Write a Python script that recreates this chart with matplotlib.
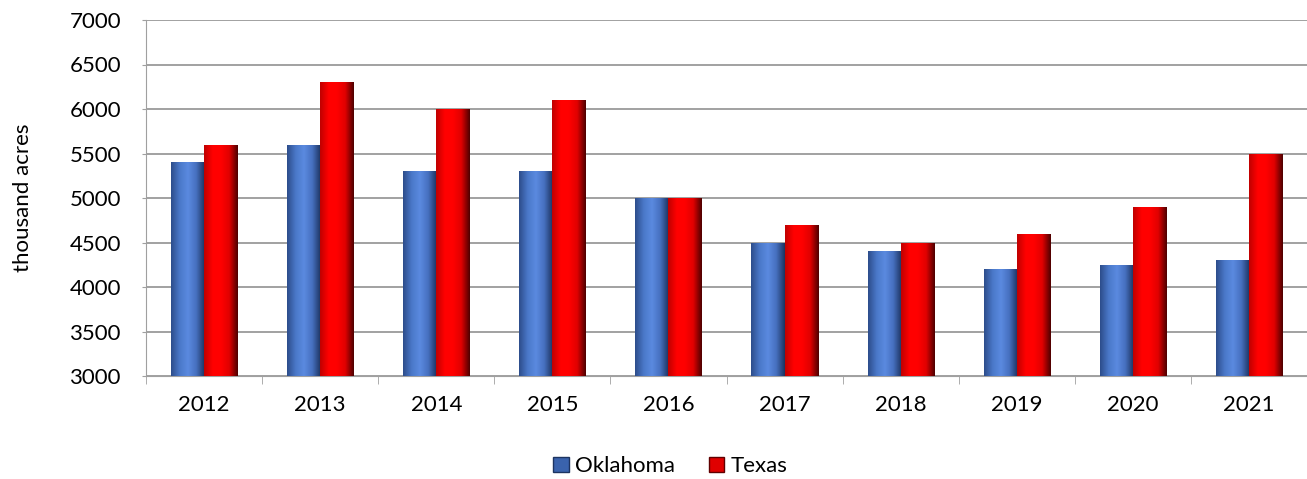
import matplotlib
matplotlib.use("Agg")
import matplotlib.pyplot as plt
from matplotlib.colors import LinearSegmentedColormap
from matplotlib.patches import Patch
import numpy as np

years = ['2012', '2013', '2014', '2015', '2016', '2017', '2018', '2019', '2020', '2021']
oklahoma = [5400, 5600, 5300, 5300, 5000, 4500, 4400, 4200, 4250, 4300]
texas = [5600, 6300, 6000, 6100, 5000, 4700, 4500, 4600, 4900, 5500]

plt.rcParams['font.family'] = ['Lato', 'DejaVu Sans']

# gradient maps to fake the bevelled excel bars
blue_cmap = LinearSegmentedColormap.from_list('bl', ['#2d4d8c', '#4a78c8', '#5b8ae0', '#4670bf', '#1d3461'])
red_cmap = LinearSegmentedColormap.from_list('rd', ['#c00000', '#ff0000', '#ff0000', '#e00000', '#500000'])

fig = plt.figure(figsize=(13.07, 4.79), dpi=100)
ax = fig.add_axes([146/1307, 1-376/479, (1307-146)/1307, 356/479])

x = np.arange(len(years))
w = 0.285
b1 = ax.bar(x - w/2, np.array(oklahoma) - 3000, w, bottom=3000, color='#4a78c8', zorder=2)
b2 = ax.bar(x + w/2, np.array(texas) - 3000, w, bottom=3000, color='#ff0000', zorder=2)

grad = np.linspace(0, 1, 64).reshape(1, -1)
for bars, cmap in [(b1, blue_cmap), (b2, red_cmap)]:
    for p in bars:
        x0, y0 = p.get_x(), p.get_y()
        im = ax.imshow(grad, cmap=cmap, aspect='auto', zorder=3,
                       extent=[x0, x0 + p.get_width(), y0, y0 + p.get_height()])
        im.set_clip_path(p)

ax.set_xlim(-0.5, len(years) - 0.5)
ax.set_ylim(3000, 7000)
ax.set_yticks(range(3000, 7001, 500))
ax.set_xticks(x)
ax.set_xticklabels(years)
ax.set_xticks(np.arange(-0.5, len(years), 1), minor=True)
ax.tick_params(axis='x', which='major', length=0, pad=14, labelsize=16)
ax.tick_params(axis='x', which='minor', length=6, color='#a0a0a0')
ax.tick_params(axis='y', length=3, color='#a0a0a0', labelsize=16, pad=15)
ax.yaxis.grid(True, color='#9a9a9a', linewidth=1.3, zorder=0)
ax.set_axisbelow(True)
for s in ['top', 'right']:
    ax.spines[s].set_visible(False)
ax.spines['left'].set_color('#a0a0a0')
ax.spines['bottom'].set_color('#a0a0a0')
ax.set_ylabel('thousand acres', fontsize=16, labelpad=26)

handles = [Patch(facecolor='#3a63ad', edgecolor='#1d3461', label='Oklahoma'),
           Patch(facecolor='#e00000', edgecolor='#600000', label='Texas')]
fig.legend(handles=handles, loc='center', bbox_to_anchor=(0.513, 0.027), ncol=2, frameon=False,
           fontsize=16, handlelength=0.7, handleheight=0.7, handletextpad=0.3, columnspacing=1.5)

fig.savefig('out.png', dpi=100)
